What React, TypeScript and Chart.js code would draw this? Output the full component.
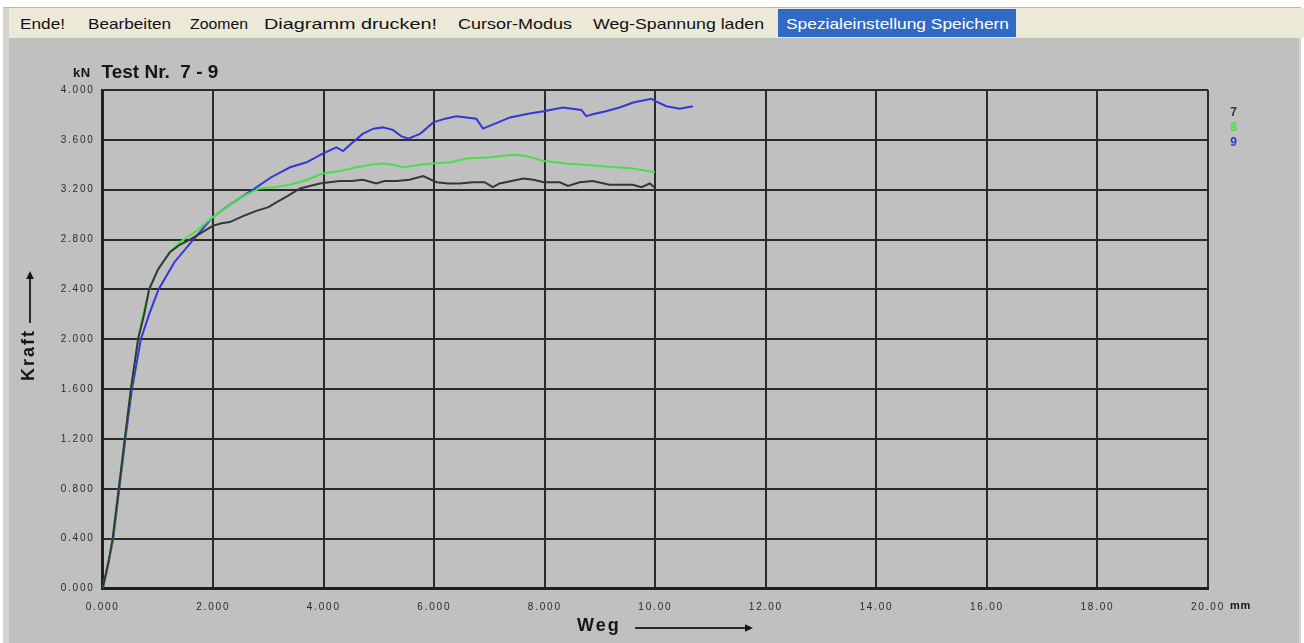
import React, { useEffect, useLayoutEffect, useRef } from "react";
import { Chart, registerables } from "chart.js";

Chart.register(...registerables);

// ---------- data ----------
const MENU_ITEMS = ["Ende!", "Bearbeiten", "Zoomen", "Diagramm drucken!", "Cursor-Modus", "Weg-Spannung laden", "Spezialeinstellung Speichern"];
const TITLE = "Test Nr.  7 - 9";
const Y_UNIT = "kN";
const X_UNIT = "mm";
const X_TITLE = "Weg";
const Y_TITLE = "Kraft";
const SERIES_NAMES = ["7", "8", "9"];
const X_TICK_LABELS = ["0.000", "2.000", "4.000", "6.000", "8.000", "10.00", "12.00", "14.00", "16.00", "18.00", "20.00"];
const Y_TICK_LABELS = ["0.000", "0.400", "0.800", "1.200", "1.600", "2.000", "2.400", "2.800", "3.200", "3.600", "4.000"];

const WEG_7 = [0, 0.10, 0.18, 0.29, 0.40, 0.51, 0.64, 0.75, 0.84, 1.00, 1.22, 1.40, 1.58, 1.88, 1.99, 2.15, 2.30, 2.55, 2.78, 3.00, 3.15, 3.35, 3.57, 3.75, 3.93, 4.10, 4.29, 4.50, 4.71, 4.95, 5.10, 5.32, 5.55, 5.80, 6.04, 6.25, 6.46, 6.70, 6.91, 7.06, 7.18, 7.40, 7.61, 7.80, 7.98, 8.27, 8.42, 8.63, 8.87, 9.17, 9.40, 9.59, 9.75, 9.90, 9.98];
const KRAFT_7 = [0, 0.20, 0.40, 0.80, 1.20, 1.60, 2.00, 2.20, 2.40, 2.56, 2.70, 2.76, 2.80, 2.88, 2.91, 2.93, 2.94, 2.99, 3.03, 3.06, 3.10, 3.15, 3.21, 3.23, 3.25, 3.26, 3.27, 3.27, 3.28, 3.25, 3.27, 3.27, 3.28, 3.31, 3.26, 3.25, 3.25, 3.26, 3.26, 3.22, 3.25, 3.27, 3.29, 3.28, 3.26, 3.26, 3.23, 3.26, 3.27, 3.24, 3.24, 3.24, 3.22, 3.25, 3.22];

const WEG_8 = [0, 0.10, 0.18, 0.29, 0.40, 0.51, 0.64, 0.75, 0.86, 1.04, 1.20, 1.40, 1.70, 1.99, 2.15, 2.36, 2.60, 2.84, 3.10, 3.39, 3.70, 3.98, 4.30, 4.59, 4.85, 5.07, 5.25, 5.44, 5.74, 5.98, 6.30, 6.58, 7.00, 7.43, 7.67, 7.98, 8.39, 8.70, 8.99, 9.30, 9.59, 9.99];
const KRAFT_8 = [0, 0.20, 0.40, 0.80, 1.20, 1.60, 2.00, 2.24, 2.42, 2.59, 2.69, 2.78, 2.87, 2.98, 3.03, 3.10, 3.16, 3.21, 3.22, 3.24, 3.28, 3.33, 3.35, 3.38, 3.40, 3.41, 3.40, 3.38, 3.40, 3.41, 3.42, 3.45, 3.46, 3.48, 3.47, 3.43, 3.41, 3.40, 3.39, 3.38, 3.37, 3.34];

const WEG_9 = [0, 0.10, 0.19, 0.30, 0.41, 0.53, 0.69, 0.84, 1.01, 1.30, 1.64, 1.99, 2.30, 2.72, 3.05, 3.39, 3.69, 3.98, 4.23, 4.35, 4.50, 4.71, 4.90, 5.07, 5.25, 5.40, 5.53, 5.75, 5.98, 6.20, 6.40, 6.76, 6.88, 7.10, 7.37, 7.70, 7.98, 8.33, 8.66, 8.75, 8.90, 9.11, 9.35, 9.60, 9.93, 10.00, 10.20, 10.44, 10.68];
const KRAFT_9 = [0, 0.20, 0.40, 0.80, 1.20, 1.60, 2.00, 2.20, 2.40, 2.62, 2.80, 2.98, 3.08, 3.20, 3.30, 3.38, 3.42, 3.49, 3.54, 3.51, 3.57, 3.65, 3.69, 3.70, 3.68, 3.63, 3.61, 3.65, 3.74, 3.77, 3.79, 3.77, 3.69, 3.73, 3.78, 3.81, 3.83, 3.86, 3.84, 3.79, 3.81, 3.83, 3.86, 3.90, 3.93, 3.91, 3.87, 3.85, 3.87];

const SERIES_COLORS = ["#363636", "#4ade4a", "#3636d6"];

// ---------- layout constants ----------
const W = 1304;
const H = 643;
const MENU_LEFTS = [20, 88, 190, 264, 458, 593, 786];
const MENU_WIDTHS = [45, 83, 58, 173, 114, 171, 223];
const FONT = '"Liberation Sans", Arial, sans-serif';

const pts = (xs: number[], ys: number[]) => xs.map((x, i) => ({ x, y: ys[i] }));

function arrow(ctx: CanvasRenderingContext2D, x1: number, y1: number, x2: number, y2: number) {
  const ang = Math.atan2(y2 - y1, x2 - x1);
  const hl = 8;
  const hw = 3.8;
  const bx = x2 - hl * Math.cos(ang);
  const by = y2 - hl * Math.sin(ang);
  ctx.beginPath();
  ctx.moveTo(x1, y1);
  ctx.lineTo(bx, by);
  ctx.stroke();
  ctx.beginPath();
  ctx.moveTo(x2, y2);
  ctx.lineTo(bx + hw * Math.sin(ang), by - hw * Math.cos(ang));
  ctx.lineTo(bx - hw * Math.sin(ang), by + hw * Math.cos(ang));
  ctx.closePath();
  ctx.fill();
}

const overlayPlugin = {
  id: "overlay",
  beforeDraw(chart: any) {
    (chart.ctx as any).letterSpacing = "1.8px";
  },
  afterDraw(chart: any) {
    const ctx = chart.ctx as CanvasRenderingContext2D;
    ctx.save();
    (ctx as any).letterSpacing = "0px";
    ctx.fillStyle = "#151515";
    ctx.strokeStyle = "#2a2a2a";
    ctx.textAlign = "left";
    ctx.textBaseline = "alphabetic";

    // title
    ctx.font = `bold 13px ${FONT}`;
    (ctx as any).letterSpacing = "0.5px";
    ctx.fillText(Y_UNIT, 73, 77);
    ctx.font = `bold 19px ${FONT}`;
    (ctx as any).letterSpacing = "0px";
    ctx.fillText(TITLE, 101.5, 77.5);

    // x unit
    ctx.font = `bold 11px ${FONT}`;
    (ctx as any).letterSpacing = "0.8px";
    ctx.textBaseline = "middle";
    ctx.fillText(X_UNIT, 1230, 606);

    // x title + arrow
    ctx.font = `bold 18px ${FONT}`;
    (ctx as any).letterSpacing = "2px";
    ctx.textBaseline = "alphabetic";
    ctx.fillText(X_TITLE, 577, 631);
    ctx.lineWidth = 2;
    arrow(ctx, 635, 628, 753, 628);

    // y title + arrow
    ctx.save();
    ctx.translate(29, 355);
    ctx.rotate(-Math.PI / 2);
    ctx.textAlign = "center";
    ctx.textBaseline = "middle";
    ctx.fillText(Y_TITLE, 0, 0);
    ctx.restore();
    arrow(ctx, 30, 323, 30, 271);

    // legend
    (ctx as any).letterSpacing = "0px";
    ctx.font = `bold 12px ${FONT}`;
    ctx.textAlign = "center";
    ctx.textBaseline = "middle";
    const ly = [112.5, 128, 142.5];
    SERIES_NAMES.forEach((n, i) => {
      ctx.fillStyle = SERIES_COLORS[i];
      ctx.fillText(n, 1233.5, ly[i]);
    });
    ctx.restore();
    (ctx as any).letterSpacing = "0px";
  },
};

function MenuBar() {
  const refs = useRef<(HTMLSpanElement | null)[]>([]);
  useLayoutEffect(() => {
    refs.current.forEach((el, i) => {
      if (!el) return;
      el.style.transform = "none";
      const w = el.getBoundingClientRect().width;
      if (w > 0) el.style.transform = `scaleX(${MENU_WIDTHS[i] / w})`;
    });
  }, []);
  return (
    <>
      <div style={{ position: "absolute", left: 9, top: 8, width: W - 9, height: 30, background: "#ece9d8" }} />
      <div style={{ position: "absolute", left: 778, top: 9, width: 238, height: 28, background: "#316ac5" }} />
      {MENU_ITEMS.map((t, i) => (
        <span
          key={t}
          ref={(el) => {
            refs.current[i] = el;
          }}
          style={{
            position: "absolute",
            left: MENU_LEFTS[i],
            top: 16,
            fontFamily: FONT,
            fontSize: 15,
            lineHeight: "15px",
            whiteSpace: "nowrap",
            transformOrigin: "0 0",
            color: i === MENU_ITEMS.length - 1 ? "#ffffff" : "#111111",
          }}
        >
          {t}
        </span>
      ))}
    </>
  );
}

export default function App() {
  const canvasRef = useRef<HTMLCanvasElement | null>(null);

  useEffect(() => {
    document.body.style.margin = "0";
    const canvas = canvasRef.current;
    if (!canvas) return;
    const tickFont = { family: FONT, size: 10 };
    const chart = new Chart(canvas, {
      type: "line",
      data: {
        datasets: [
          { label: SERIES_NAMES[0], data: pts(WEG_7, KRAFT_7), borderColor: SERIES_COLORS[0] },
          { label: SERIES_NAMES[1], data: pts(WEG_8, KRAFT_8), borderColor: SERIES_COLORS[1] },
          { label: SERIES_NAMES[2], data: pts(WEG_9, KRAFT_9), borderColor: SERIES_COLORS[2] },
        ].map((d) => ({ ...d, borderWidth: 2, pointRadius: 0, tension: 0, fill: false })),
      },
      options: {
        animation: false,
        responsive: false,
        devicePixelRatio: 1,
        events: [],
        layout: { padding: { left: 0, top: 90, right: 96, bottom: 0 } },
        plugins: { legend: { display: false }, title: { display: false }, tooltip: { enabled: false } },
        scales: {
          x: {
            type: "linear",
            min: 0,
            max: 20,
            afterFit: (s: any) => {
              s.height = 54.5;
            },
            ticks: {
              stepSize: 2,
              autoSkip: false,
              maxRotation: 0,
              padding: 13,
              color: "#2a2a2a",
              font: tickFont,
              callback: (_v: any, i: number) => X_TICK_LABELS[i],
            },
            grid: { color: "#2a2a2a", lineWidth: 2, drawTicks: false },
            border: { color: "#1e1e1e", width: 3 },
          },
          y: {
            type: "linear",
            min: 0,
            max: 4,
            afterFit: (s: any) => {
              s.width = 102.7;
            },
            ticks: {
              stepSize: 0.4,
              padding: 8,
              color: "#2a2a2a",
              font: tickFont,
              callback: (_v: any, i: number) => Y_TICK_LABELS[i],
            },
            grid: { color: "#2a2a2a", lineWidth: 2, drawTicks: false },
            border: { color: "#1e1e1e", width: 2.5 },
          },
        },
      },
      plugins: [overlayPlugin],
    } as any);
    return () => chart.destroy();
  }, []);

  return (
    <div style={{ position: "fixed", left: 0, top: 0, width: W, height: H, background: "#ffffff", overflow: "hidden" }}>
      <div style={{ position: "absolute", left: 3, top: 7, width: 1298, height: H - 7, background: "#d6d3ce", borderTop: "1px solid #a9b9d2" }} />
      <MenuBar />
      <div style={{ position: "absolute", left: 9, top: 38, width: 1290, height: H - 38, background: "#c0c0c0" }} />
      <canvas ref={canvasRef} width={W} height={H} style={{ position: "absolute", left: 0, top: 0, width: W, height: H }} />
    </div>
  );
}
